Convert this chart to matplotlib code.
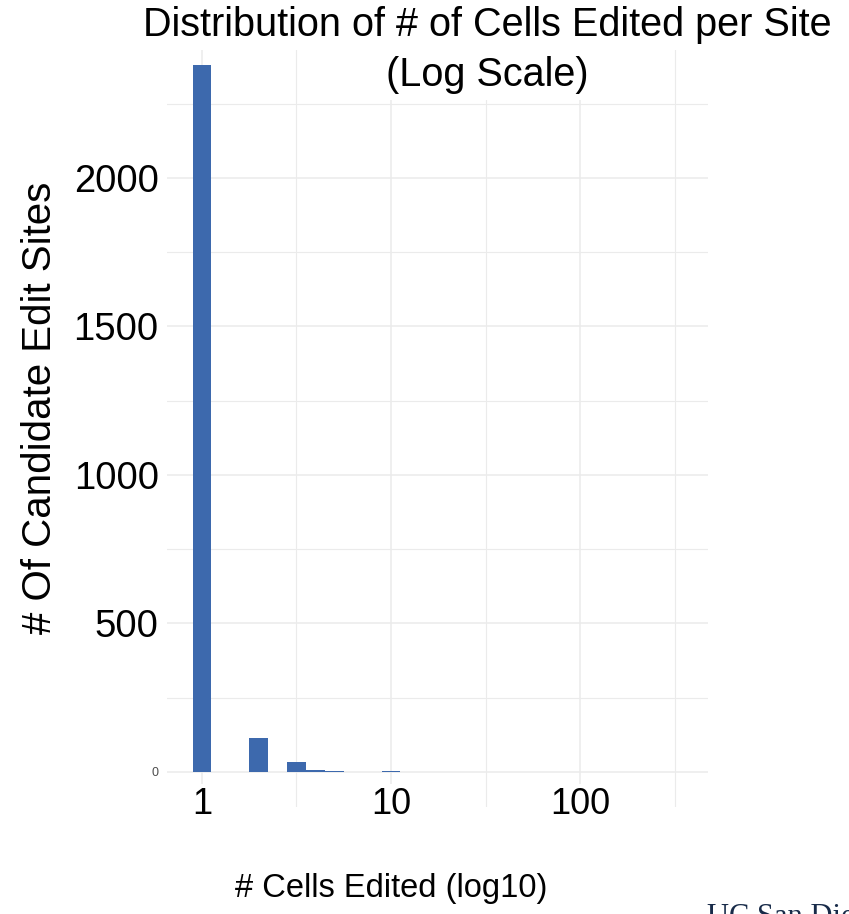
import numpy as np
import matplotlib
matplotlib.use("Agg")
import matplotlib.pyplot as plt
from matplotlib.ticker import FixedLocator, NullFormatter

plt.rcParams['font.family'] = ['Liberation Sans', 'DejaVu Sans']

# histogram bins (log10 of # cells edited), binwidth 0.1
bin_centers = [0.0, 0.3, 0.5, 0.6, 0.7, 1.0, 2.6]
bin_counts = [2380, 115, 33, 7, 2, 2, 1]
binwidth = 0.1

y_ticks = [0, 500, 1000, 1500, 2000]
x_ticks = [1, 10, 100]
x_ticklabels = ["1", "10", "100"]

bar_color = "#3D69AD"
grid_color = "#EBEBEB"

fig = plt.figure(figsize=(8.49, 9.14), dpi=100)
W, H = 849, 914
ax = fig.add_axes([167 / W, 1 - 807 / H, (708 - 167) / W, (807 - 30) / H])

c = np.array(bin_centers)
lefts = 10 ** (c - binwidth / 2)
rights = 10 ** (c + binwidth / 2)
ax.bar(lefts, bin_counts, width=rights - lefts, align='edge',
       color=bar_color, edgecolor='none', zorder=2)

ax.set_xscale('log')
ax.set_xlim(10 ** -0.185, 10 ** 2.677)
ax.set_ylim(-118, 2498)

# grid like ggplot theme_minimal
ax.xaxis.set_major_locator(FixedLocator(x_ticks))
ax.xaxis.set_minor_locator(FixedLocator([10 ** 0.5, 10 ** 1.5, 10 ** 2.5]))
ax.xaxis.set_major_formatter(NullFormatter())
ax.xaxis.set_minor_formatter(NullFormatter())
ax.yaxis.set_major_locator(FixedLocator(y_ticks))
ax.yaxis.set_minor_locator(FixedLocator([250, 750, 1250, 1750, 2250]))
ax.grid(which='major', color=grid_color, linewidth=1.1, zorder=0)
ax.grid(which='minor', color=grid_color, linewidth=0.8, zorder=0)
ax.set_axisbelow(True)
for s in ax.spines.values():
    s.set_visible(False)
ax.tick_params(which='both', length=0)

ax.set_yticklabels([str(v) for v in y_ticks], fontsize=27.5, color='black')
ax.tick_params(axis='y', pad=6)
lab0 = ax.get_yticklabels()[0]
lab0.set_fontsize(9)
lab0.set_color('#4D4D4D')

for xv, lab in zip(x_ticks, x_ticklabels):
    ax.text(xv, 0.003, lab, transform=ax.get_xaxis_transform(), ha='center',
            va='center', fontsize=26, clip_on=False, zorder=5,
            bbox=dict(facecolor='white', edgecolor='none', pad=2))

fig.text(40 / W, 1 - 408 / H, "# Of Candidate Edit Sites", rotation=90,
         ha='center', va='center', fontsize=29)
fig.text(391 / W, 1 - 888 / H, "# Cells Edited (log10)", ha='center',
         va='center', fontsize=23.5)

fig.text(487 / W, 1 - 25 / H, "Distribution of # of Cells Edited per Site",
         ha='center', va='center', fontsize=28.5, zorder=5,
         bbox=dict(facecolor='white', edgecolor='none', pad=4))
fig.text(487 / W, 1 - 75 / H, "(Log Scale)", ha='center', va='center',
         fontsize=28.5, zorder=5,
         bbox=dict(facecolor='white', edgecolor='none', pad=4))

fig.text(707 / W, 1 - 903 / H, "UC San Diego", ha='left', va='top',
         fontsize=22, color='#182B49', family='Liberation Serif')

fig.savefig("out.png", dpi=100)
